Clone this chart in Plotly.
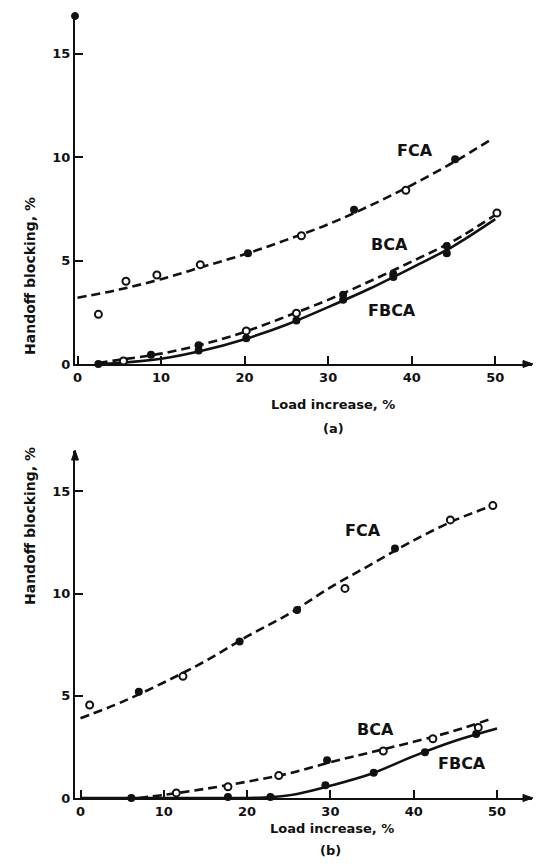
import plotly.graph_objects as go

# ---------------- Panel (a) ----------------
A_FCA_CURVE_X = [0, 5, 10, 15, 20, 25, 30, 35, 40, 45, 49.5]
A_FCA_CURVE_Y = [3.2, 3.6, 4.1, 4.7, 5.3, 6.0, 6.75, 7.65, 8.65, 9.75, 10.85]
A_BCA_CURVE_X = [2.5, 5, 10, 15, 20, 25, 30, 35, 40, 45, 50]
A_BCA_CURVE_Y = [0.05, 0.2, 0.5, 0.95, 1.55, 2.3, 3.1, 4.0, 4.95, 5.95, 7.2]
A_FBCA_CURVE_X = [2.5, 5, 10, 15, 20, 25, 30, 35, 40, 45, 50]
A_FBCA_CURVE_Y = [0.0, 0.05, 0.25, 0.65, 1.2, 1.9, 2.75, 3.65, 4.65, 5.7, 7.0]

A_OPEN_X = [2.5, 5.8, 9.5, 14.7, 26.8, 39.3, 5.5, 20.2, 26.2, 50.2]
A_OPEN_Y = [2.4, 4.0, 4.3, 4.8, 6.2, 8.4, 0.15, 1.6, 2.45, 7.3]
A_FILLED_X = [20.4, 33.1, 45.2, 8.8, 14.5, 31.8, 37.8, 44.2, 2.5, 14.5, 20.2, 26.2, 31.8, 37.8, 44.2]
A_FILLED_Y = [5.35, 7.45, 9.9, 0.45, 0.9, 3.35, 4.35, 5.7, 0.0, 0.65, 1.25, 2.1, 3.1, 4.2, 5.35]

# ---------------- Panel (b) ----------------
B_FCA_CURVE_X = [0, 5, 10, 15, 20, 25, 30, 35, 40, 45, 49.5]
B_FCA_CURVE_Y = [3.9, 4.7, 5.65, 6.7, 7.9, 9.0, 10.3, 11.45, 12.6, 13.6, 14.3]
B_BCA_CURVE_X = [7, 10, 15, 20, 25, 30, 35, 40, 45, 49.5]
B_BCA_CURVE_Y = [0.0, 0.15, 0.45, 0.8, 1.2, 1.75, 2.25, 2.75, 3.3, 3.9]
B_FBCA_CURVE_X = [0, 10, 20, 23, 26, 30, 35, 40, 45, 50]
B_FBCA_CURVE_Y = [0.0, 0.0, 0.0, 0.05, 0.2, 0.6, 1.2, 2.05, 2.8, 3.4]

B_OPEN_X = [1.1, 12.3, 31.75, 44.4, 49.5, 11.5, 17.7, 23.8, 36.35, 42.3, 47.75]
B_OPEN_Y = [4.55, 5.95, 10.25, 13.6, 14.3, 0.25, 0.55, 1.1, 2.3, 2.9, 3.45]
B_FILLED_X = [7.0, 19.1, 26.0, 37.75, 29.6, 6.1, 17.7, 22.8, 29.4, 35.2, 41.35, 47.5]
B_FILLED_Y = [5.2, 7.65, 9.2, 12.2, 1.85, 0.0, 0.05, 0.05, 0.62, 1.23, 2.24, 3.13]

X_TICKS = [0, 10, 20, 30, 40, 50]
Y_TICKS = [0, 5, 10, 15]
CURVE_NAMES = ["FCA", "BCA", "FBCA"]
PANEL_LABELS = ["(a)", "(b)"]
X_TITLE = "Load increase, %"
Y_TITLE = "Handoff blocking, %"

FONT = "DejaVu Sans"
BLACK = "#111111"

fig = go.Figure()


def add_panel(xa, ya, curves, open_xy, filled_xy):
    for (cx, cy, dash) in curves:
        fig.add_trace(go.Scatter(
            x=cx, y=cy, mode="lines", line=dict(color=BLACK, width=2.6, dash=dash, shape="spline"),
            xaxis=xa, yaxis=ya, showlegend=False, cliponaxis=False, hoverinfo="skip"))
    fig.add_trace(go.Scatter(
        x=open_xy[0], y=open_xy[1], mode="markers",
        marker=dict(symbol="circle", size=7, color="white", line=dict(color=BLACK, width=2)),
        xaxis=xa, yaxis=ya, showlegend=False, cliponaxis=False))
    fig.add_trace(go.Scatter(
        x=filled_xy[0], y=filled_xy[1], mode="markers",
        marker=dict(symbol="circle", size=8, color=BLACK),
        xaxis=xa, yaxis=ya, showlegend=False, cliponaxis=False))


DASH = "9px,5px"
add_panel("x", "y",
          [(A_FCA_CURVE_X, A_FCA_CURVE_Y, DASH), (A_BCA_CURVE_X, A_BCA_CURVE_Y, DASH),
           (A_FBCA_CURVE_X, A_FBCA_CURVE_Y, "solid")],
          (A_OPEN_X, A_OPEN_Y), (A_FILLED_X, A_FILLED_Y))
add_panel("x2", "y2",
          [(B_FCA_CURVE_X, B_FCA_CURVE_Y, DASH), (B_BCA_CURVE_X, B_BCA_CURVE_Y, DASH),
           (B_FBCA_CURVE_X, B_FBCA_CURVE_Y, "solid")],
          (B_OPEN_X, B_OPEN_Y), (B_FILLED_X, B_FILLED_Y))

tickfont = dict(family=FONT, size=13, color=BLACK, weight="bold")
axis_common = dict(showline=True, linecolor=BLACK, linewidth=2, ticks="inside", ticklen=8,
                   tickwidth=2, tickcolor=BLACK, showgrid=False, zeroline=False,
                   tickfont=tickfont)

fig.update_layout(
    width=538, height=868,
    margin=dict(l=75, r=6, t=16, b=70),
    paper_bgcolor="white", plot_bgcolor="white",
    xaxis=dict(domain=[0, 1], range=[-0.3, 54.4], anchor="y", tickvals=X_TICKS, **axis_common),
    yaxis=dict(domain=[0.555, 1.0], range=[0, 16.82], anchor="x", tickvals=Y_TICKS, **axis_common),
    xaxis2=dict(domain=[0, 1], range=[-0.66, 54.2], anchor="y2", tickvals=X_TICKS, **axis_common),
    yaxis2=dict(domain=[0, 0.4437], range=[0, 16.97], anchor="x2", tickvals=Y_TICKS, **axis_common),
)

ann = []
lab_font = dict(family=FONT, size=16, color=BLACK, weight="bold")
for (xr, yr, name, x, y) in [
    ("x", "y", CURVE_NAMES[0], 40.4, 10.3), ("x", "y", CURVE_NAMES[1], 37.4, 5.76),
    ("x", "y", CURVE_NAMES[2], 37.6, 2.6),
    ("x2", "y2", CURVE_NAMES[0], 33.9, 13.1), ("x2", "y2", CURVE_NAMES[1], 35.4, 3.37),
    ("x2", "y2", CURVE_NAMES[2], 45.8, 1.67)]:
    ann.append(dict(xref=xr, yref=yr, x=x, y=y, text=name, showarrow=False, font=lab_font))

tfont = dict(family=FONT, size=13, color=BLACK, weight="bold")
yfont = dict(family=FONT, size=14, color=BLACK, weight="bold")
ann += [
    dict(xref="paper", yref="paper", x=0.5646, y=0.5038, text=X_TITLE, showarrow=False, font=tfont),
    dict(xref="paper", yref="paper", x=0.5646, y=0.4731, text=PANEL_LABELS[0], showarrow=False, font=tfont),
    dict(xref="paper", yref="paper", x=0.5624, y=-0.0512, text=X_TITLE, showarrow=False, font=tfont),
    dict(xref="paper", yref="paper", x=0.558, y=-0.0793, text=PANEL_LABELS[1], showarrow=False, font=tfont),
    dict(xref="paper", yref="paper", x=-0.1204, y=0.7711, text=Y_TITLE, textangle=-90, showarrow=False, font=yfont),
    dict(xref="paper", yref="paper", x=-0.1204, y=0.2442, text=Y_TITLE, textangle=-90, showarrow=False, font=yfont),
]
fig.update_layout(annotations=ann)

# axis-end decorations (arrowheads / dot)
shapes = []
for xr, yr in [("x domain", "y domain"), ("x2 domain", "y2 domain")]:
    shapes.append(dict(type="path", xref=xr, yref=yr, xsizemode="pixel", ysizemode="pixel",
                       xanchor=1, yanchor=0, path="M 1,0 L -9,3.5 L -9,-3.5 Z",
                       fillcolor=BLACK, line=dict(color=BLACK, width=1)))
shapes.append(dict(type="circle", xref="x domain", yref="y domain", xsizemode="pixel",
                   ysizemode="pixel", xanchor=0, yanchor=1, x0=-3.5, x1=3.5, y0=-3.5, y1=3.5,
                   fillcolor=BLACK, line=dict(color=BLACK, width=1)))
shapes.append(dict(type="path", xref="x2 domain", yref="y2 domain", xsizemode="pixel",
                   ysizemode="pixel", xanchor=0, yanchor=1, path="M 0,1 L -3.5,-9 L 3.5,-9 Z",
                   fillcolor=BLACK, line=dict(color=BLACK, width=1)))
fig.update_layout(shapes=shapes)

fig.write_html("out.html", config={"displayModeBar": False},
               post_script="document.body.style.margin='0';document.body.style.overflow='hidden';")
